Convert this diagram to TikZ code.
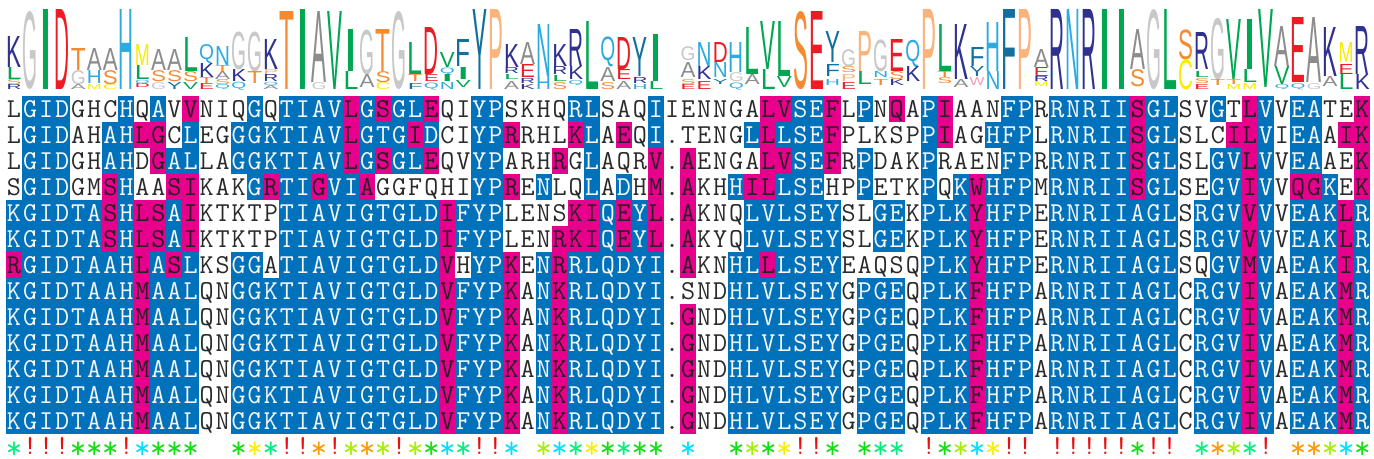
\documentclass[tikz,border=0pt]{standalone}
\usepackage{fontspec}
\usepackage{graphicx}
\usepackage{xcolor}
\usepackage{tikz}
\newfontfamily\logofont{Liberation Sans}

% cell colours: b = identical, m = similar, w = other
\definecolor{bgb}{HTML}{0072BC}
\definecolor{bgm}{HTML}{E6008C}
\definecolor{bgw}{HTML}{FFFFFF}
\definecolor{fgb}{HTML}{F8F8F8}
\definecolor{fgm}{HTML}{2A1F24}
\definecolor{fgw}{HTML}{2A2A2A}

% conservation marks
\definecolor{mkr}{HTML}{E81010}
\definecolor{mkg}{HTML}{10E010}
\definecolor{mks}{HTML}{00F080}
\definecolor{mkc}{HTML}{00E0FF}
\definecolor{mky}{HTML}{F8F000}
\definecolor{mkl}{HTML}{A8EE00}
\definecolor{mko}{HTML}{FF9A00}

% logo colours per residue
\definecolor{aaA}{HTML}{8C8C8C}
\definecolor{aaG}{HTML}{C8C8C8}
\definecolor{aaK}{HTML}{2E3192}
\definecolor{aaR}{HTML}{2E3192}
\definecolor{aaI}{HTML}{00A651}
\definecolor{aaL}{HTML}{00A651}
\definecolor{aaV}{HTML}{00A651}
\definecolor{aaD}{HTML}{ED1C24}
\definecolor{aaE}{HTML}{ED1C24}
\definecolor{aaS}{HTML}{F58A30}
\definecolor{aaT}{HTML}{F58A30}
\definecolor{aaH}{HTML}{2BABE2}
\definecolor{aaN}{HTML}{2BABE2}
\definecolor{aaQ}{HTML}{2BABE2}
\definecolor{aaM}{HTML}{F8EC00}
\definecolor{aaC}{HTML}{F8EC00}
\definecolor{aaP}{HTML}{FBB37B}
\definecolor{aaY}{HTML}{13709E}
\definecolor{aaF}{HTML}{13709E}
\definecolor{aaW}{HTML}{F49AC1}

% one alignment row: row number, residues, colour codes
\newcount\alncol
\def\alnstop{}
\newcommand\alnrow[3]{%
  \alncol=0
  \def\alnrowy{#1}%
  \alnnext#2\alnstop#3\alnstop}
\def\alnnext#1#2\alnstop#3#4\alnstop{%
  \advance\alncol by 1
  \node[cell, fill=bg#3, text=fg#3] (s\alnrowy-\the\alncol)
    at (16.05*\the\alncol-2.025, 26*\alnrowy+83) {#1};%
  \ifx\alnstop#2\alnstop\else\alnnext#2\alnstop#4\alnstop\fi}

% conservation row: r = bang, - = none, else star in that colour
\newcommand\markrow[1]{%
  \alncol=0
  \marknext#1\alnstop}
\def\marknext#1#2\alnstop{%
  \advance\alncol by 1
  \if#1-\else
    \if#1r\node[bang] (m\the\alncol) at (16.05*\the\alncol-2.025, 455) {!};%
    \else\node[star, text=mk#1] (m\the\alncol) at (16.05*\the\alncol-2.025, 458) {*};%
    \fi
  \fi
  \ifx\alnstop#2\alnstop\else\marknext#2\alnstop\fi}

\begin{document}
\begin{tikzpicture}[
    x=0.75pt, y=-0.75pt,
    cell/.style={rectangle, inner sep=0pt, minimum width=12.15pt, minimum height=19.6pt,
      text height=12.5pt, text depth=0pt, font=\fontsize{20.5}{24}\selectfont\ttfamily},
    bang/.style={anchor=base, inner sep=0pt, text=mkr, font=\fontsize{20.5}{24}\selectfont\ttfamily},
    star/.style={anchor=base, inner sep=0pt, font=\fontsize{24}{24}\selectfont\ttfamily},
    logo letter/.style={anchor=south, inner sep=0pt, outer sep=0pt}
  ]
  \fill[white] (0,0) rectangle (1374,459);
  \useasboundingbox (0,0) rectangle (1374,459);

  % Sequence logo
  \foreach \lx/\la/\ltop/\lbot in {
      1/K/37/68, 1/L/68/80, 1/S/80/85, 1/R/85/90,
      2/G/12/90, 3/I/10/90, 4/D/10/90,
      5/T/49/71, 5/G/71/85, 5/A/85/90,
      6/A/49/71, 6/H/71/84, 6/M/85/90,
      7/A/49/71, 7/S/71/85, 7/C/85/90,
      8/H/10/90,
      9/M/45/66, 9/L/66/80, 9/Q/80/84, 9/D/84/88,
      10/A/50/71, 10/S/71/82, 10/G/83/90,
      11/A/50/71, 11/S/71/82, 11/Y/83/90,
      12/L/38/72, 12/S/72/82, 12/V/83/90,
      13/Q/45/64, 13/K/64/78, 13/T/78/84, 13/E/84/90,
      14/N/47/66, 14/T/66/72, 14/A/72/80, 14/S/80/85, 14/Q/85/90,
      15/G/32/70, 15/K/70/82, 15/Q/82/90,
      16/G/32/72, 16/T/72/84,
      17/K/40/70, 17/P/70/75, 17/R/75/82, 17/Q/82/86, 17/A/86/90,
      18/T/12/90, 19/I/10/90,
      20/A/12/83, 20/G/83/90,
      21/V/12/90,
      22/I/30/72, 22/L/72/90,
      23/G/30/75, 23/A/75/88,
      24/T/30/72, 24/S/72/83, 24/C/83/90,
      25/G/12/90,
      26/L/43/75, 26/T/75/82, 26/F/84/90,
      27/D/28/75, 27/E/75/82, 27/Q/83/90,
      28/V/53/68, 28/Q/68/75, 28/I/75/82, 28/N/83/90,
      29/F/40/67, 29/I/68/80, 29/V/81/88,
      30/Y/10/90, 31/P/10/90,
      32/K/45/68, 32/R/68/74, 32/L/75/80, 32/A/82/90,
      33/A/43/65, 33/E/65/78, 33/R/79/84, 33/K/85/90,
      34/N/25/77, 34/H/77/90,
      35/K/45/67, 35/R/67/75, 35/L/76/82, 35/S/83/90,
      36/R/30/67, 36/K/67/80, 36/Q/81/86,
      37/L/22/90,
      38/Q/37/67, 38/A/68/82, 38/S/83/90,
      39/D/38/70, 39/E/70/80, 39/A/82/90,
      40/Y/38/77, 40/R/78/84, 40/H/85/90,
      41/I/35/82, 41/L/82/90,
      43/G/47/61, 43/A/63/78, 43/S/80/85, 43/E/85/90,
      44/N/43/67, 44/K/67/80, 44/E/82/90,
      45/D/43/63, 45/N/63/78, 45/Y/80/85,
      46/H/43/73, 46/G/73/82, 46/Q/83/90,
      47/L/28/75, 47/A/75/85,
      48/V/22/70, 48/L/70/90,
      49/L/22/77, 49/V/77/88,
      50/S/12/90, 51/E/12/90,
      52/Y/32/63, 52/F/65/77, 52/H/80/86,
      53/G/50/67, 53/S/67/73, 53/P/75/82, 53/E/83/90,
      54/P/32/72, 54/L/72/85,
      55/G/40/72, 55/N/72/78, 55/T/80/86,
      56/E/40/72, 56/S/72/80, 56/K/80/86,
      57/Q/40/67, 57/K/67/82,
      58/P/10/90,
      59/L/25/72, 59/T/72/78, 59/S/78/84,
      60/K/25/80, 60/A/80/88,
      61/F/48/67, 61/Y/67/77, 61/W/78/86,
      62/H/23/72, 62/N/72/90,
      63/F/10/90, 64/P/10/90,
      65/A/50/68, 65/E/68/77, 65/R/77/82, 65/M/82/87,
      66/R/10/90, 67/N/10/90, 68/R/10/90, 69/I/10/90, 70/I/10/90,
      71/A/30/70, 71/S/70/87,
      72/G/10/90, 73/L/10/90,
      74/S/30/60, 74/C/60/90,
      75/R/33/70, 75/L/72/78, 75/S/79/84, 75/E/85/90,
      76/G/18/80, 76/T/80/86,
      77/V/20/80, 77/T/80/85, 77/M/85/90,
      78/I/20/70, 78/L/70/83, 78/M/84/90,
      79/V/10/88,
      80/A/27/67, 80/V/67/85, 80/Q/85/90,
      81/E/18/83, 81/Q/84/90,
      82/A/18/83, 82/G/84/90,
      83/K/28/77, 83/A/77/87,
      84/M/43/63, 84/E/65/75, 84/L/75/90,
      85/R/27/75, 85/K/75/90}
    \node[logo letter] (g\lx\la) at (16.05*\lx-2.025, \lbot)
      {\textcolor{aa\la}{\resizebox*{11.2pt}{\dimexpr 0.75pt*(\lbot-\ltop)\relax}{\logofont\la}}};

  % Alignment rows
  \alnrow{1}{LGIDGHCHQA VVNIQGQTIA VLGSGLEQIY PSKHQRLSAQ IIENNGALVS EFLPNQAPIA ANFPRRNRII SGLSVGTLVV EATEK}
            {wbbbwwwbwb wmwwwbwbbb bmbmbbmwwb bwwwwbbwww bwwwwwwmmb bmwbwmwbmw wwbbwbbbbb mbbwwbwmbw bbwwm}
  \alnrow{2}{LGIDAHAHLG CLEGGGKTIA VLGTGIDCIY PRRHLKLAEQ I.TENGLLLS EFPLKSPPIA GHFPLRNRII SGLSLCILVI EAAIK}
            {wbbbwwbbmm wbwwbbbbbb bmbbbmbwwb bmwwwmbwmw bwwwwwbmbb bmwwwwwbmw wbbbwbbbbb mbbwwwmmbw bbwmm}
  \alnrow{3}{LGIDGHAHDG ALLAGGKTIA VLGSGLEQVY PARHRGLAQR V.AENGALVS EFRPDAKPRA ENFPRRNRII SGLSLGVLVV EAAEK}
            {wbbbwwbbwm bbwwbbbbbb bmbmbbmwwb bwwwmwbwww mwmwwwwmmb bmwbwwwbww wwbbwbbbbb mbbwwbbmbw bbwwm}
  \alnrow{4}{SGIDGMSHAA SIKAKGRTIG VIAGGFQHIY PRENLQLADH M.AKHHILLS EHPPETKPQK WHFPMRNRII SGLSEGVIVV QGKEK}
            {wbbbwwmbww mmwwwbmbbm bbmwwwwwwb bmwbwwbwbw mwmwwbmmbb bwwbwwwbwb mbbbwbbbbb mbbwwbbmbw mmbwm}
  \alnrow{5}{KGIDTASHLS AIKTKTPTIA VIGTGLDIFY PLENSKIQEY L.AKNQLVLS EYSLGEKPLK YHFPERNRII AGLSRGVVVV EAKLR}
            {bbbbbbmbmm bmwwwwwbbb bbbbbbbmbb bwwwwmmbmb mwmwwwbbbb bbwwbbwbbb mbbbwbbbbb bbbwbbbmbw bbbmb}
  \alnrow{6}{KGIDTASHLS AIKTKTPTIA VIGTGLDIFY PLENRKIQEY L.AKYQLVLS EYSLGEKPLK YHFPERNRII AGLSRGVVVV EAKLR}
            {bbbbbbmbmm bmwwwwwbbb bbbbbbbmbb bwwwmmmbmb mwmwwwbbbb bbwwbbwbbb mbbbwbbbbb bbbwbbbmbw bbbmb}
  \alnrow{7}{RGIDTAAHLA SLKSGGATIA VIGTGLDVHY PKENRRLQDY I.AKNHLLLS EYEAQSQPLK YHFPERNRII AGLSQGVMVA EAKIR}
            {mbbbbbbbmb mbwwbbwbbb bbbbbbbmwb bmwbmbbbbb bwmwwbbmbb bbwwwwwbbb mbbbwbbbbb bbbwwbbmbw bbbmb}
  \alnrow{8}{KGIDTAAHMA ALQNGGKTIA VIGTGLDVFY PKANKRLQDY I.SNDHLVLS EYGPGEQPLK FHFPARNRII AGLCRGVIVA EAKMR}
            {bbbbbbbbmb bbwwbbbbbb bbbbbbbmbb bmwbmbbbbb bwwwwbbbbb bbwbbbwbbb mbbbwbbbbb bbbwbbbmbw bbbmb}
  \foreach \r in {9,...,13}
    \alnrow{\r}{KGIDTAAHMA ALQNGGKTIA VIGTGLDVFY PKANKRLQDY I.GNDHLVLS EYGPGEQPLK FHFPARNRII AGLCRGVIVA EAKMR}
               {bbbbbbbbmb bbwwbbbbbb bbbbbbbmbb bmwbmbbbbb bwmwwbbbbb bbwbbbwbbb mbbbwbbbbb bbbwbbbmbw bbbmb};

  % Conservation marks
  \markrow{srrrgggrcg gg--gysrro rlolrlgcsr rc-lcsygsg g-c--glgyr rg-gss-rgl cyrr-rrrrr grr-solsr- oolcg}
\end{tikzpicture}
\end{document}
